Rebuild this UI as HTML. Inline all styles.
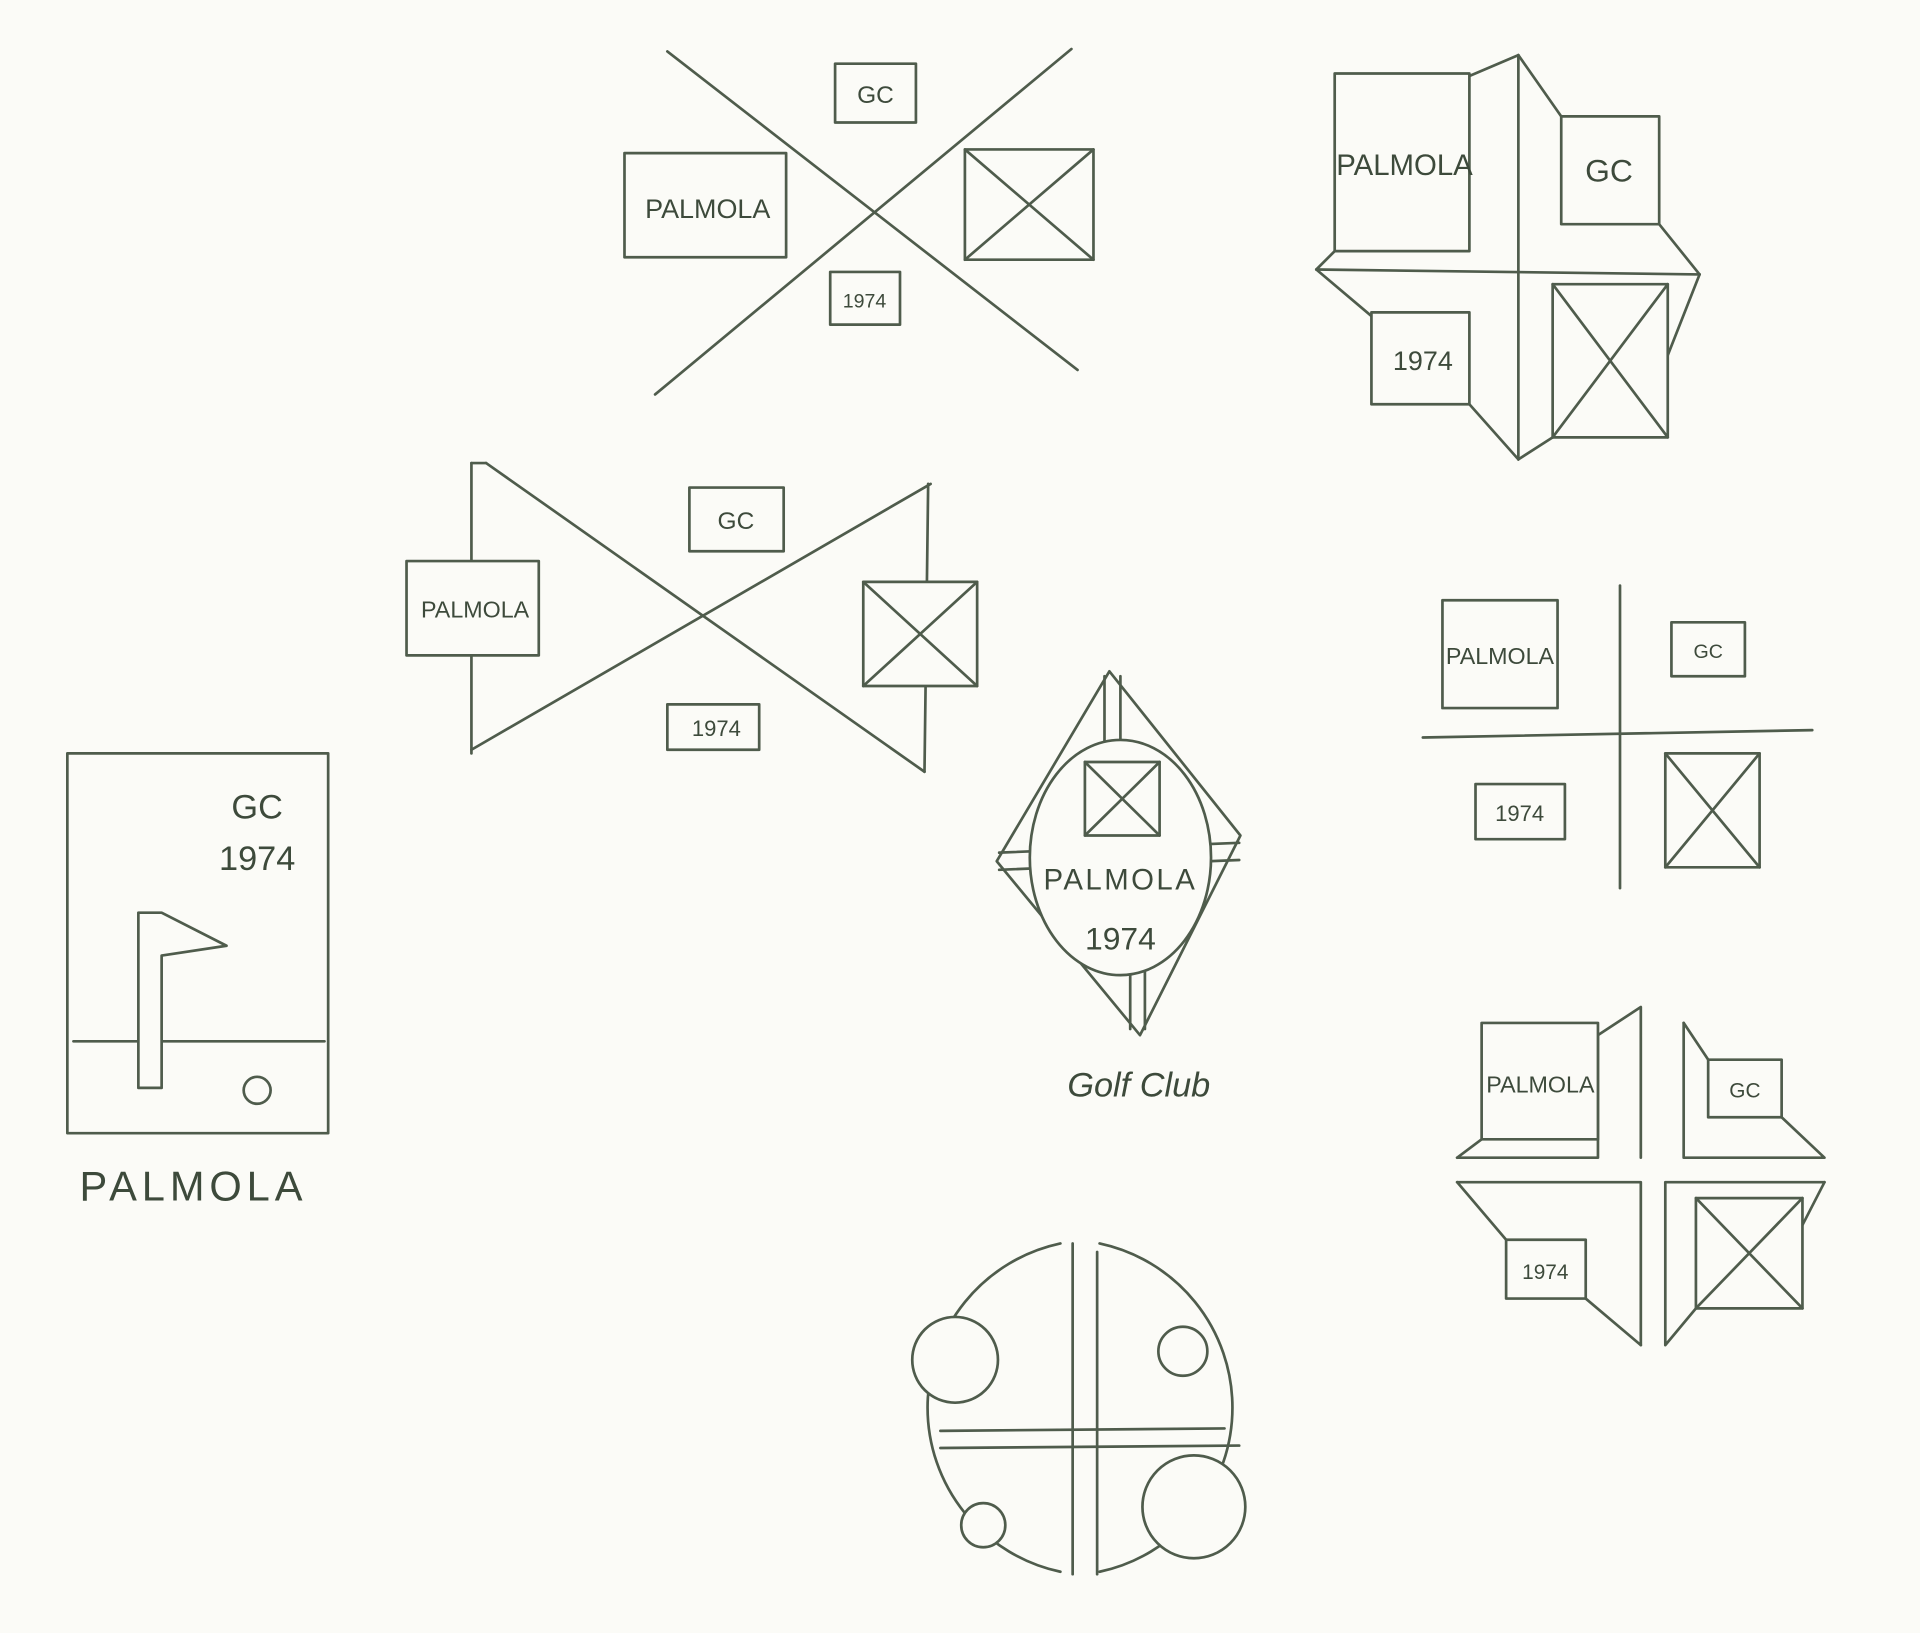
<!DOCTYPE html>
<html><head><meta charset="utf-8"><style>
html,body{margin:0;padding:0;background:#fbfbf7;}
svg{display:block}
text{font-family:"Liberation Sans",sans-serif;fill:#3d4a3b}
</style></head><body>
<svg width="1920" height="1633" viewBox="0 0 1568 1333" preserveAspectRatio="none" xmlns="http://www.w3.org/2000/svg">
<rect width="1568" height="1333" fill="#fbfbf7"/>
<g fill="none" stroke="#4f5c4c" stroke-width="2.2" stroke-linecap="round" stroke-linejoin="round">
<!-- 1 top center X -->
<line x1="545" y1="42" x2="880" y2="302"/>
<line x1="535" y1="322" x2="875" y2="40"/>
<rect x="682" y="52" width="66" height="48" fill="#fbfbf7"/>
<rect x="510" y="125" width="132" height="85" fill="#fbfbf7"/>
<rect x="788" y="122" width="105" height="90" fill="#fbfbf7"/>
<line x1="788" y1="122" x2="893" y2="212"/><line x1="893" y1="122" x2="788" y2="212"/>
<rect x="678" y="222" width="57" height="43" fill="#fbfbf7"/>
<!-- 2 top right -->
<line x1="1240" y1="45" x2="1240" y2="375"/>
<line x1="1075" y1="220" x2="1388" y2="224"/>
<line x1="1200" y1="62" x2="1240" y2="45"/>
<line x1="1240" y1="45" x2="1275" y2="95"/>
<line x1="1355" y1="183" x2="1388" y2="224"/>
<line x1="1388" y1="224" x2="1362" y2="290"/>
<line x1="1240" y1="375" x2="1268" y2="357"/>
<line x1="1240" y1="375" x2="1200" y2="330"/>
<line x1="1075" y1="220" x2="1120" y2="258"/>
<line x1="1075" y1="220" x2="1090" y2="205"/>
<rect x="1090" y="60" width="110" height="145" fill="#fbfbf7"/>
<rect x="1275" y="95" width="80" height="88" fill="#fbfbf7"/>
<rect x="1120" y="255" width="80" height="75" fill="#fbfbf7"/>
<rect x="1268" y="232" width="94" height="125" fill="#fbfbf7"/>
<line x1="1268" y1="232" x2="1362" y2="357"/><line x1="1362" y1="232" x2="1268" y2="357"/>
<!-- 3 bowtie -->
<line x1="397" y1="378" x2="755" y2="630"/>
<line x1="385" y1="612" x2="760" y2="395"/>
<line x1="397" y1="378" x2="385" y2="378"/>
<line x1="385" y1="378" x2="385" y2="615"/>
<line x1="758" y1="395" x2="755" y2="630"/>
<rect x="563" y="398" width="77" height="52" fill="#fbfbf7"/>
<rect x="332" y="458" width="108" height="77" fill="#fbfbf7"/>
<rect x="705" y="475" width="93" height="85" fill="#fbfbf7"/>
<line x1="705" y1="475" x2="798" y2="560"/><line x1="798" y1="475" x2="705" y2="560"/>
<rect x="545" y="575" width="75" height="37" fill="#fbfbf7"/>
<!-- 4 flag card -->
<rect x="55" y="615" width="213" height="310"/>
<line x1="60" y1="850" x2="265" y2="850"/>
<polygon points="113,888 132,888 132,780 185,772 132,745 113,745" fill="#fbfbf7"/>
<circle cx="210" cy="890" r="11"/>
<!-- 5 diamond -->
<polygon points="906,548 1013,682 931,845 814,703"/>
<line x1="902" y1="552" x2="902" y2="620"/>
<line x1="915" y1="552" x2="915" y2="620"/>
<line x1="923" y1="780" x2="923" y2="840"/>
<line x1="935" y1="780" x2="935" y2="840"/>
<line x1="816" y1="696" x2="1012" y2="688"/>
<line x1="816" y1="710" x2="1012" y2="702"/>
<ellipse cx="915" cy="700" rx="74" ry="96" fill="#fbfbf7"/>
<rect x="886" y="622" width="61" height="60"/>
<line x1="886" y1="622" x2="947" y2="682"/><line x1="947" y1="622" x2="886" y2="682"/>
<!-- 6 right middle -->
<line x1="1323" y1="478" x2="1323" y2="725"/>
<line x1="1162" y1="602" x2="1480" y2="596"/>
<rect x="1178" y="490" width="94" height="88"/>
<rect x="1365" y="508" width="60" height="44"/>
<rect x="1205" y="640" width="73" height="45"/>
<rect x="1360" y="615" width="77" height="93"/>
<line x1="1360" y1="615" x2="1437" y2="708"/><line x1="1437" y1="615" x2="1360" y2="708"/>
<!-- 7 right lower -->
<polyline points="1190,945 1305,945 1305,845 1340,822 1340,945"/>
<polyline points="1375,835 1375,945 1490,945 1455,912"/>
<polyline points="1190,965 1340,965 1340,1098"/>
<polyline points="1490,965 1360,965 1360,1098 1385,1068"/>
<line x1="1190" y1="965" x2="1230" y2="1012"/>
<line x1="1490" y1="965" x2="1472" y2="1000"/>
<line x1="1375" y1="835" x2="1395" y2="865"/>
<line x1="1190" y1="945" x2="1210" y2="930"/>
<line x1="1295" y1="1060" x2="1340" y2="1098"/>
<rect x="1210" y="835" width="95" height="95" fill="#fbfbf7"/>
<rect x="1395" y="865" width="60" height="47" fill="#fbfbf7"/>
<rect x="1230" y="1012" width="65" height="48" fill="#fbfbf7"/>
<rect x="1385" y="978" width="87" height="90" fill="#fbfbf7"/>
<line x1="1385" y1="978" x2="1472" y2="1068"/><line x1="1472" y1="978" x2="1385" y2="1068"/>
<!-- 8 bottom circle -->
<path d="M866,1015 A137,137 0 0 0 866,1283"/>
<path d="M898,1015 A137,137 0 0 1 898,1283"/>
<line x1="876" y1="1015" x2="876" y2="1285"/>
<line x1="896" y1="1022" x2="896" y2="1285"/>
<line x1="768" y1="1168" x2="1000" y2="1166"/>
<line x1="768" y1="1182" x2="1012" y2="1180"/>
<circle cx="780" cy="1110" r="35" fill="#fbfbf7"/>
<circle cx="966" cy="1103" r="20" fill="#fbfbf7"/>
<circle cx="803" cy="1245" r="18" fill="#fbfbf7"/>
<circle cx="975" cy="1230" r="42" fill="#fbfbf7"/>
</g>
<g text-anchor="middle">
<text x="715" y="84" font-size="20">GC</text>
<text x="578" y="178" font-size="22">PALMOLA</text>
<text x="706" y="251" font-size="16">1974</text>
<text x="1147" y="143" font-size="24">PALMOLA</text>
<text x="1314" y="148" font-size="26">GC</text>
<text x="1162" y="302" font-size="22">1974</text>
<text x="601" y="432" font-size="20">GC</text>
<text x="388" y="504" font-size="19">PALMOLA</text>
<text x="585" y="601" font-size="18">1974</text>
<text x="210" y="668" font-size="28">GC</text>
<text x="210" y="710" font-size="28">1974</text>
<text x="158" y="980" font-size="34" letter-spacing="4">PALMOLA</text>
<text x="915" y="726" font-size="24" letter-spacing="2">PALMOLA</text>
<text x="915" y="775" font-size="26">1974</text>
<text x="930" y="895" font-size="28" font-style="italic" font-family="Liberation Serif,serif">Golf  Club</text>
<text x="1225" y="542" font-size="19">PALMOLA</text>
<text x="1395" y="537" font-size="16">GC</text>
<text x="1241" y="670" font-size="18">1974</text>
<text x="1258" y="892" font-size="19">PALMOLA</text>
<text x="1425" y="896" font-size="17">GC</text>
<text x="1262" y="1044" font-size="17">1974</text>
</g>
</svg>
</body></html>
